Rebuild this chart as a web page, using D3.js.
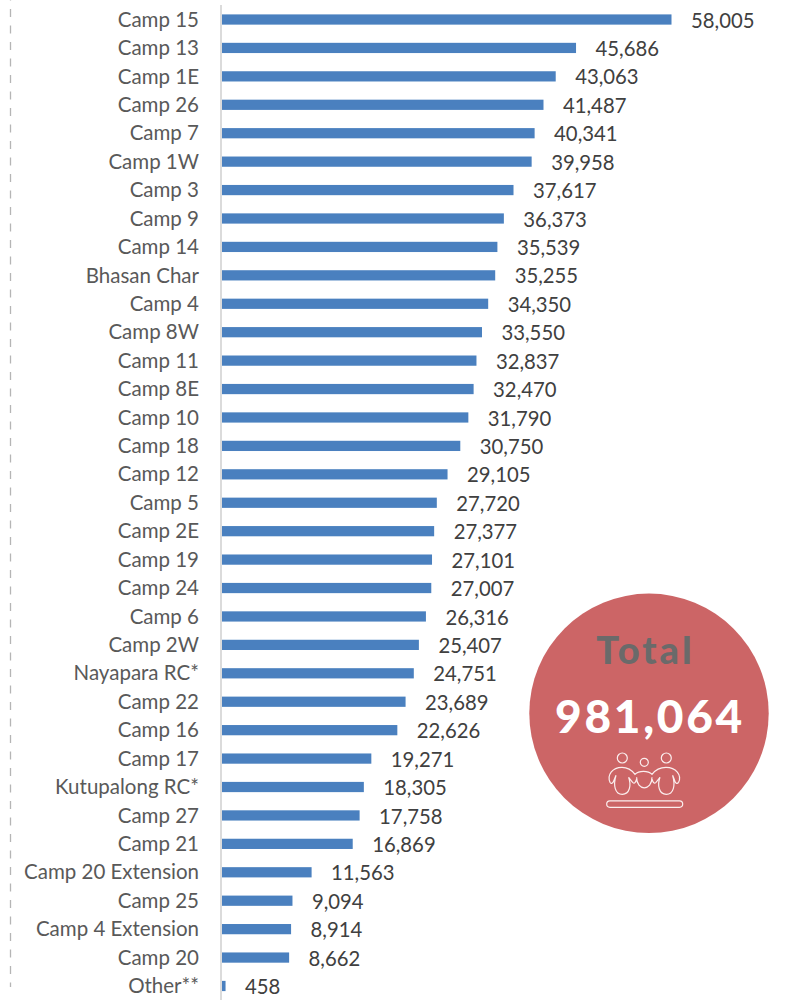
<!DOCTYPE html>
<html><head><meta charset="utf-8">
<script src="https://cdn.jsdelivr.net/npm/d3@7"></script>
<style>html,body{margin:0;padding:0;background:#fff}svg{display:block}text{font-family:Lato,"Open Sans",sans-serif}</style>
</head><body><div id="chart"></div>
<script>
const categories=["Camp 15","Camp 13","Camp 1E","Camp 26","Camp 7","Camp 1W","Camp 3","Camp 9","Camp 14","Bhasan Char","Camp 4","Camp 8W","Camp 11","Camp 8E","Camp 10","Camp 18","Camp 12","Camp 5","Camp 2E","Camp 19","Camp 24","Camp 6","Camp 2W","Nayapara RC*","Camp 22","Camp 16","Camp 17","Kutupalong RC*","Camp 27","Camp 21","Camp 20 Extension","Camp 25","Camp 4 Extension","Camp 20","Other**"];
const values=[58005,45686,43063,41487,40341,39958,37617,36373,35539,35255,34350,33550,32837,32470,31790,30750,29105,27720,27377,27101,27007,26316,25407,24751,23689,22626,19271,18305,17758,16869,11563,9094,8914,8662,458];
const totalLabel="Total", totalValue="981,064";
const W=785,H=1003;
const svg=d3.select("#chart").append("svg").attr("width",W).attr("height",H);
const x=d3.scaleLinear().domain([0,58005]).range([222,671.5]);
const y=d3.scaleBand().domain(categories).range([5.3,1000.2]).paddingInner(0.64).paddingOuter(0.32);
const mid=d=>y(d)+y.bandwidth()/2;
const fmt=d3.format(",");
svg.append("line").attr("x1",10.5).attr("x2",10.5).attr("y1",0).attr("y2",987).attr("stroke","#b5b5b5").attr("stroke-width",1.3).attr("stroke-dasharray","8 8.5").attr("stroke-dashoffset",-9);
svg.append("line").attr("x1",221).attr("x2",221).attr("y1",5).attr("y2",1000).attr("stroke","#d2d2d2").attr("stroke-width",1.6);
svg.selectAll("rect.bar").data(values).join("rect").attr("class","bar")
 .attr("x",x(0)).attr("y",(d,i)=>y(categories[i])).attr("width",d=>x(d)-x(0)).attr("height",y.bandwidth()).attr("fill","#4a80bf");
svg.selectAll("text.cat").data(categories).join("text").attr("class","cat")
 .attr("x",199).attr("y",d=>mid(d)).attr("dy","0.35em").attr("text-anchor","end").attr("font-size",20.5).attr("fill","#595959").text(d=>d);
svg.selectAll("text.val").data(values).join("text").attr("class","val")
 .attr("x",d=>x(d)+19.5).attr("y",(d,i)=>mid(categories[i])+1).attr("dy","0.35em").attr("font-size",20.3).attr("fill","#404040").text(d=>fmt(d));
const g=svg.append("g").attr("transform","translate(649,713.3)");
g.append("circle").attr("r",119.7).attr("fill","#cc6566");
g.append("text").attr("x",-3.5).attr("y",-49).attr("text-anchor","middle").attr("font-size",38).attr("font-weight",900).attr("letter-spacing",3).attr("fill","#6a6a6a").text(totalLabel);
g.append("text").attr("x",1).attr("y",20).attr("text-anchor","middle").attr("font-size",46).attr("font-weight",900).attr("letter-spacing",2.7).attr("fill","#fff").text(totalValue);
const ic=g.append("g").attr("fill","none").attr("stroke","#fbeeee").attr("stroke-width",1.2);
[[-26.7,44.7,5],[-4.7,49,4],[17.3,44.7,5]].forEach(c=>ic.append("circle").attr("cx",c[0]).attr("cy",c[1]).attr("r",c[2]));
ic.append("path").attr("d","M-39,69 C-42,62 -37,54 -27,54 C-21,54 -17,57 -14,61 C-10,57 -1,57 3,61 C6,57 10,54 17,54 C27,54 33,62 29.6,69 C28,71 26.5,70 25.6,67 L23.6,62 C26.6,72 24.6,81 17.3,81 C10,81 8,72 11,64 L7,69 C5,71 4,69 3,66 M-39,69 C-38,71 -36,70 -35,67 L-33,62 C-36,72 -34,81 -26.7,81 C-19.4,81 -17.4,72 -20.4,64 L-16.4,69 C-14.4,71 -13.4,69 -12.4,66 M-12.4,64 C-12.4,78 3,78 3,64");
ic.append("rect").attr("x",-42.3).attr("y",87.5).attr("width",76).attr("height",6.5).attr("rx",3.2);
</script></body></html>
